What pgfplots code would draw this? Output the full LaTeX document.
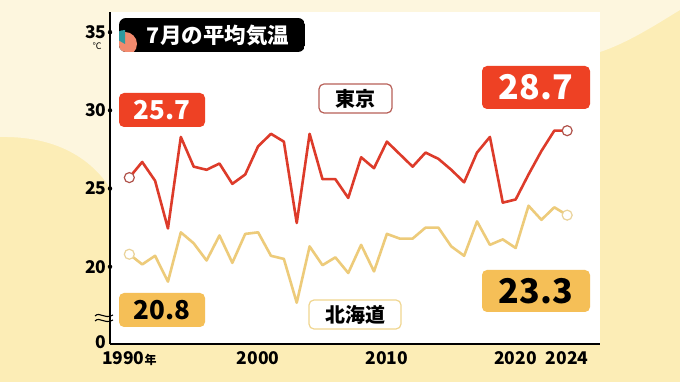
\documentclass[border=0pt]{standalone}
\usepackage{fontspec}
\setmainfont{Noto Sans CJK JP}
\usepackage{pgfplots}
\pgfplotsset{compat=1.18}
\definecolor{bgY}{HTML}{FCEDB6}
\definecolor{bgL}{HTML}{FDF6DE}
\definecolor{tkLine}{HTML}{DD3B2A}
\definecolor{tkBox}{HTML}{EE4124}
\definecolor{tkCirc}{HTML}{B0524A}
\definecolor{tkBord}{HTML}{B86058}
\definecolor{hkLine}{HTML}{EDCB7A}
\definecolor{hkBox}{HTML}{F5BF57}
\definecolor{hkCirc}{HTML}{EAD39A}
\definecolor{hkBord}{HTML}{F0D690}
\definecolor{blobS}{HTML}{F28A6E}
\definecolor{blobT}{HTML}{2E9AA0}
\begin{document}
\begin{tikzpicture}[x=1pt,y=1pt]
\useasboundingbox (0,0) rectangle (680,382);
\fill[bgY] (0,0) rectangle (680,382);
\fill[bgL] (0,382) -- (0,245) .. controls (50,246) and (95,228) .. (118,180) -- (600,330) .. controls (630,340) and (660,360) .. (680,372) -- (680,382) -- cycle;
\begin{axis}[
  at={(110pt,38pt)}, anchor=south west,
  scale only axis, width=490pt, height=332pt,
  xmin=1988.5, xmax=2026.55, ymin=15.06, ymax=36.29,
  axis x line*=bottom, axis y line*=left,
  axis line style={line width=1.5pt,-},
  axis background/.style={fill=white},
  xtick={1990,2000,2010,2020,2024},
  xticklabels={{1990{\fontsize{12}{12}\selectfont 年}},2000,2010,2020,2024},
  ytick={15.06,20,25,30,35},
  yticklabels={{\raisebox{4pt}{0}},20,25,30,35},
  major tick length=0pt,
  tick style={draw=none},
  tick label style={font=\bfseries\fontsize{17.5}{17.5}\selectfont, text=black},
  xticklabel style={yshift=-4pt},
  clip=false,
]
\addplot[tkLine, line width=2.6pt, line join=round] coordinates {
(1990,25.7)(1991,26.7)(1992,25.5)(1993,22.45)(1994,28.3)(1995,26.4)(1996,26.2)(1997,26.6)(1998,25.3)(1999,25.9)
(2000,27.7)(2001,28.5)(2002,28.0)(2003,22.8)(2004,28.5)(2005,25.6)(2006,25.6)(2007,24.4)(2008,27.0)(2009,26.3)
(2010,28.0)(2011,27.2)(2012,26.4)(2013,27.3)(2014,26.9)(2015,26.2)(2016,25.4)(2017,27.3)(2018,28.3)(2019,24.1)
(2020,24.3)(2021,25.9)(2022,27.4)(2023,28.7)(2024,28.7)};
\addplot[hkLine, line width=2.6pt, line join=round] coordinates {
(1990,20.8)(1991,20.15)(1992,20.7)(1993,19.05)(1994,22.2)(1995,21.5)(1996,20.4)(1997,22.0)(1998,20.25)(1999,22.1)
(2000,22.2)(2001,20.7)(2002,20.5)(2003,17.7)(2004,21.3)(2005,20.1)(2006,20.6)(2007,19.6)(2008,21.4)(2009,19.7)
(2010,22.1)(2011,21.8)(2012,21.8)(2013,22.5)(2014,22.5)(2015,21.3)(2016,20.7)(2017,22.9)(2018,21.4)(2019,21.75)
(2020,21.2)(2021,23.9)(2022,23.0)(2023,23.8)(2024,23.3)};
\addplot[only marks, mark=*, mark size=5pt, mark options={fill=white, draw=tkCirc, line width=1.2pt}] coordinates {(1990,25.7)(2024,28.7)};
\addplot[only marks, mark=*, mark size=5pt, mark options={fill=white, draw=hkCirc, line width=1.2pt}] coordinates {(1990,20.8)(2024,23.3)};
\addplot[only marks, mark=*, mark size=2pt, black] coordinates {(1988.5,20)(1988.5,25)(1988.5,30)(1988.5,35)};
\end{axis}
% unit and axis break
\node[font=\fontsize{9}{9}\selectfont] at (97,336) {℃};
\draw[line width=1.1pt] (95,66) .. controls (100,71) and (104,62) .. (113,67);
\draw[line width=1.1pt] (95,61) .. controls (100,66) and (104,57) .. (113,62);
% title
\begin{scope}
\clip[rounded corners=7pt] (119,330) rectangle (305,364);
\fill[black] (119,330) rectangle (305,364);
\fill[blobS] (125,338) circle (12);
\fill[blobT] (125,338) -- (125+14*cos 90,338+14*sin 90) arc (90:150:14) -- cycle;
\end{scope}
\node[text=white, font=\bfseries\fontsize{21.5}{22}\selectfont] at (218,347) {7月の平均気温};
% value boxes
\fill[tkBox, rounded corners=5pt] (119,255) rectangle (205,289);
\node[text=white, font=\bfseries\fontsize{26}{26}\selectfont] at (162,272) {25.7};
\fill[tkBox, rounded corners=5pt] (482,273) rectangle (590,316);
\node[text=white, font=\bfseries\fontsize{34}{34}\selectfont] at (536,294.5) {28.7};
\fill[hkBox, rounded corners=5pt] (119,55) rectangle (205,89);
\node[text=black, font=\bfseries\fontsize{26}{26}\selectfont] at (162,72) {20.8};
\fill[hkBox, rounded corners=5pt] (482,70) rectangle (590,112);
\node[text=black, font=\bfseries\fontsize{34}{34}\selectfont] at (536,91) {23.3};
% name boxes
\draw[tkBord, fill=white, line width=1.2pt, rounded corners=5pt] (319,269) rectangle (392,298);
\node[font=\bfseries\fontsize{20}{20}\selectfont] at (355.5,283.5) {東京};
\draw[hkBord, fill=white, line width=1.2pt, rounded corners=5pt] (309,53) rectangle (401,82);
\node[font=\bfseries\fontsize{20}{20}\selectfont] at (355,67.5) {北海道};
\end{tikzpicture}
\end{document}
